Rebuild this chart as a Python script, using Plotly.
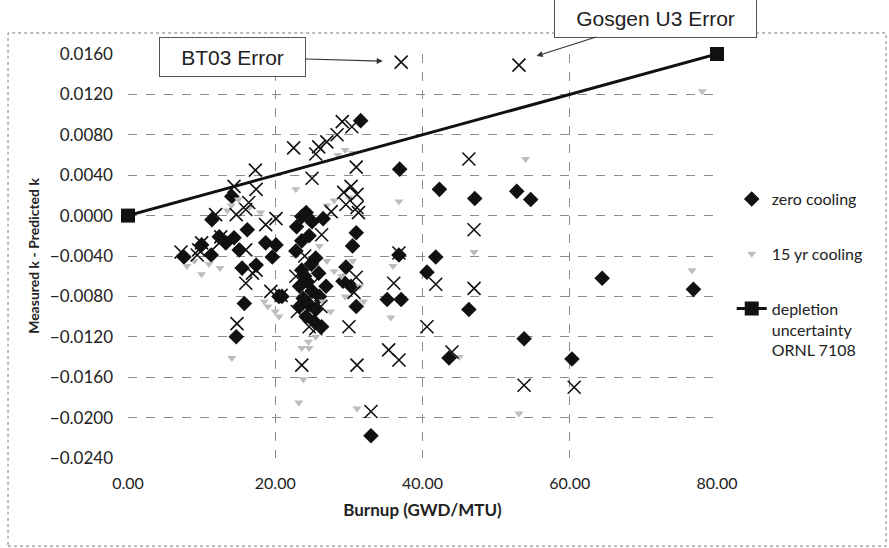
import plotly.graph_objects as go

# ---------------- data ----------------
zero_x = [7.6, 10.0, 11.3, 11.4, 12.4, 14.1, 14.4, 15.1, 16.2, 13.3, 15.5, 17.4, 18.7, 20.1,
          19.6, 15.8, 20.5, 14.7, 31.6, 36.9, 42.3, 47.1, 52.8, 54.7, 24.2, 23.6, 22.9,
          25.0, 26.5, 23.6, 24.6, 31.0, 25.5, 23.6, 25.9, 24.3, 23.3, 25.0, 26.0, 23.8,
          24.6, 25.5, 23.3, 24.2, 25.3, 26.9, 24.9, 29.6, 30.3, 31.0, 20.9, 36.8, 35.2,
          37.1, 41.8, 40.6, 46.3, 43.6, 33.0, 53.8, 60.3, 64.4, 76.8, 30.5, 29.2, 22.8,
          26.3, 24.0]
zero_y = [-0.0041, -0.0029, -0.0039, -0.0004, -0.0021, 0.0019, -0.0022, -0.0034, -0.0014,
          -0.0027, -0.0052, -0.0049, -0.0027, -0.0029, -0.0041, -0.0087, -0.0080, -0.0120,
          0.0094, 0.0046, 0.0026, 0.0017, 0.0024, 0.0016, 0.0003, -0.0001, -0.0011,
          -0.0006, -0.0003, -0.0025, -0.0020, -0.0017, -0.0042, -0.0054, -0.0057, -0.0065,
          -0.0070, -0.0075, -0.0080, -0.0082, -0.0088, -0.0093, -0.0090, -0.0100, -0.0105,
          -0.0070, -0.0048, -0.0051, -0.0070, -0.0090, -0.0080, -0.0039, -0.0083, -0.0083,
          -0.0041, -0.0056, -0.0093, -0.0141, -0.0218, -0.0122, -0.0142, -0.0062, -0.0073,
          -0.0030, -0.0065, -0.0035, -0.0110, -0.0060]

cross_x = [37.1, 53.1, 29.1, 30.4, 28.4, 27.0, 22.5, 25.9, 25.5, 31.0, 25.0, 17.3, 14.4,
           17.4, 30.3, 29.3, 31.1, 29.6, 31.1, 31.3, 27.6, 16.4, 16.0, 14.7, 11.9, 20.1,
           18.7, 12.6, 10.0, 12.4, 7.2, 9.4, 9.6, 16.0, 16.9, 16.0, 17.4, 19.4, 20.8,
           14.8, 26.3, 24.0, 22.8, 25.0, 24.0, 26.2, 24.6, 25.5, 23.0, 31.0, 30.7, 30.0,
           36.8, 36.1, 41.8, 40.6, 46.3, 47.0, 47.0, 44.0, 53.8, 60.6, 35.4, 36.8, 31.1,
           23.6, 33.0]
cross_y = [0.0152, 0.0149, 0.0093, 0.0088, 0.0080, 0.0073, 0.0067, 0.0068, 0.0061, 0.0048,
           0.0037, 0.0045, 0.0029, 0.0026, 0.0029, 0.0023, 0.0021, 0.0011, 0.0008, 0.0003,
           0.0004, 0.0013, 0.0006, 0.0001, 0.0001, -0.0003, -0.0009, -0.0021, -0.0027,
           -0.0027, -0.0036, -0.0039, -0.0034, -0.0034, -0.0057, -0.0067, -0.0054, -0.0075,
           -0.0079, -0.0107, -0.0019, -0.0040, -0.0060, -0.0068, -0.0085, -0.0090, -0.0110,
           -0.0112, -0.0095, -0.0061, -0.0076, -0.0110, -0.0037, -0.0067, -0.0068, -0.0110,
           0.0056, -0.0014, -0.0072, -0.0135, -0.0168, -0.0170, -0.0133, -0.0143, -0.0148,
           -0.0148, -0.0194]

cool15_x = [22.8, 47.0, 35.7, 23.6, 24.6, 23.8, 23.2, 31.1, 78.0, 76.6, 53.1, 54.0, 36.8,
            14.1, 8.0, 9.0, 10.0, 11.0, 12.5, 14.0, 15.0, 16.5, 18.0, 13.5, 19.0, 20.0,
            18.5, 20.5, 26.0, 27.0, 28.0, 26.5, 27.5, 25.5, 24.5, 29.0, 29.5, 31.5, 32.0,
            30.5, 27.0, 28.0, 30.0, 28.5, 29.5, 30.5, 36.0, 45.0]
cool15_y = [0.0026, -0.0036, -0.0101, -0.0131, -0.0131, -0.0162, -0.0185, -0.0191, 0.0123,
            -0.0054, -0.0196, 0.0056, 0.0014, -0.0141, -0.0050, -0.0045, -0.0058, -0.0048,
            -0.0052, 0.0010, 0.0016, 0.0008, 0.0003, 0.0005, -0.0090, -0.0095, -0.0085,
            -0.0100, -0.0030, -0.0045, -0.0055, -0.0085, -0.0095, -0.0120, -0.0125,
            -0.0060, -0.0080, -0.0070, -0.0085, -0.0045, 0.0010, 0.0015, 0.0018, 0.0060,
            0.0065, 0.0062, -0.0050, -0.0140]

depl_x = [0.0, 80.0]
depl_y = [0.0, 0.016]

x_ticks = [0, 20, 40, 60, 80]
y_ticks = [-0.024, -0.020, -0.016, -0.012, -0.008, -0.004, 0.0, 0.004, 0.008, 0.012, 0.016]

FONT = "Lato"

fig = go.Figure()

fig.add_trace(go.Scatter(
    x=zero_x, y=zero_y, mode="markers", name="zero cooling", legendrank=1,
    legendgroup="a",
    marker=dict(symbol="diamond", size=12, color="#111111")))

fig.add_trace(go.Scatter(
    x=cool15_x, y=cool15_y, mode="markers", name="15 yr cooling", legendrank=2,
    legendgroup="b",
    marker=dict(symbol="triangle-down", size=8, color="#bdbdbd")))

fig.add_trace(go.Scatter(
    x=cross_x, y=cross_y, mode="markers", name="", showlegend=False,
    marker=dict(symbol="x-thin-open", size=13, color="#111111",
                line=dict(width=1.6, color="#111111"))))

fig.add_trace(go.Scatter(
    x=depl_x, y=depl_y, mode="lines+markers", cliponaxis=False,
    name="depletion<br>uncertainty<br>ORNL 7108", legendrank=3, legendgroup="c",
    line=dict(color="#111111", width=3),
    marker=dict(symbol="square", size=14, color="#111111")))

grid = dict(showgrid=True, gridcolor="#8c8c8c", griddash="dash", gridwidth=1,
            zeroline=False, showline=False, ticks="")

fig.update_xaxes(range=[0, 80], tickvals=x_ticks, tickformat=".2f",
                 tickfont=dict(family=FONT, size=16, color="#222"),
                 ticklabelstandoff=14,
                 title=dict(text="<b>Burnup (GWD/MTU)</b>",
                            font=dict(family=FONT, size=17, color="#222"), standoff=13),
                 **grid)
fig.update_yaxes(range=[-0.024, 0.016], tickvals=y_ticks, tickformat=".4f",
                 tickfont=dict(family=FONT, size=17, color="#222"),
                 ticklabelstandoff=14,
                 title=dict(text="<b>Measured k - Predicted k</b>",
                            font=dict(family=FONT, size=14, color="#222"), standoff=6),
                 **grid)

fig.update_layout(
    width=889, height=548,
    margin=dict(l=128, r=172, t=54, b=90),
    paper_bgcolor="white", plot_bgcolor="white",
    font=dict(family=FONT, color="#222"),
    legend=dict(x=1.025, y=0.683, xanchor="left", yanchor="top", valign="top",
                font=dict(family=FONT, size=16, color="#222"),
                tracegroupgap=31, bgcolor="rgba(0,0,0,0)"),
    shapes=[dict(type="rect", xref="paper", yref="paper",
                 x0=-0.2037, x1=1.287, y0=-0.218, y1=1.052,
                 line=dict(color="#777", width=1, dash="dot"), layer="below")],
    annotations=[
        dict(text="BT03 Error", x=34.6, y=0.0153, xref="x", yref="y",
             ax=-150, ay=-4, axref="pixel", ayref="pixel",
             showarrow=True, arrowhead=2, arrowsize=1, arrowwidth=1.2,
             arrowcolor="#333", width=143, height=36,
             bordercolor="#555", borderwidth=1, bgcolor="white",
             font=dict(family="Liberation Sans", size=21, color="#222")),
        dict(text="Gosgen U3 Error", x=55.5, y=0.0158, xref="x", yref="y",
             ax=119, ay=-38, axref="pixel", ayref="pixel",
             showarrow=True, arrowhead=2, arrowsize=1, arrowwidth=1.2,
             arrowcolor="#333", width=199, height=35,
             bordercolor="#555", borderwidth=1, bgcolor="white",
             font=dict(family="Liberation Sans", size=21, color="#222")),
    ],
)

fig.write_html("out.html")
